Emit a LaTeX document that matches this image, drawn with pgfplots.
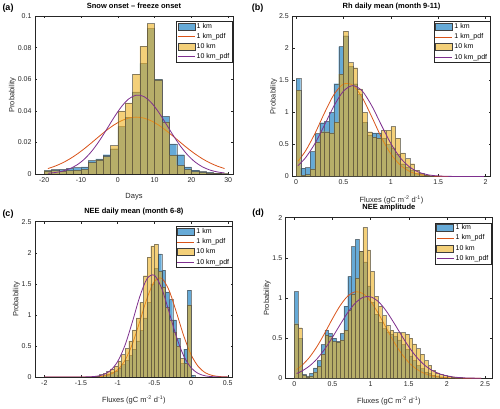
\documentclass[border=0pt]{standalone}
\usepackage{fontspec}
\setmainfont{Liberation Sans}
\usepackage{pgfplots}
\pgfplotsset{compat=1.18}
\definecolor{mblue}{rgb}{0,0.447,0.741}
\definecolor{myel}{rgb}{0.929,0.694,0.125}
\definecolor{mora}{rgb}{0.85,0.325,0.098}
\definecolor{mpur}{rgb}{0.494,0.184,0.556}
\definecolor{axc}{rgb}{0.15,0.15,0.15}
\pgfplotsset{
  every axis/.append style={
    scale only axis,
    axis line style={axc, line width=0.5pt},
    tick style={axc, line width=0.4pt},
    tick align=inside, major tick length=2.2pt,
    ticklabel style={font=\fontsize{7}{8}\selectfont, text=axc},
    label style={font=\fontsize{7.5}{9}\selectfont, text=axc},
    title style={font=\bfseries\fontsize{7.5}{9}\selectfont, at={(0.5,1)}, anchor=base, yshift=1.8pt, inner sep=0pt},
    /pgf/number format/assume math mode=true,
    legend cell align=left,
    legend style={at={(0.996,0.97)}, anchor=north east, draw=axc, line width=0.4pt,
      font=\fontsize{7}{8}\selectfont, inner xsep=1pt, inner ysep=1pt, row sep=1.6pt,
      nodes={inner xsep=1.6pt, inner ysep=1pt}},
    ylabel={Probability},
    ylabel style={yshift=-5pt},
    xlabel style={yshift=-3.5pt},
  },
  hist/.style={ybar interval, fill=#1, fill opacity=0.6, draw=black!75, draw opacity=0.6, line width=0.35pt, forget plot},
  pdf/.style={color=#1, line width=0.8pt, smooth, no markers, forget plot},
}
\newcommand{\mylegend}{%
  \addlegendimage{legend image code/.code={\draw[fill=mblue,fill opacity=0.6,draw=black!75] (0pt,-3.5pt) rectangle (17pt,3.5pt);}}
  \addlegendentry{1 km}
  \addlegendimage{legend image code/.code={\draw[mora,line width=0.8pt] (0pt,0pt) -- (17pt,0pt);}}
  \addlegendentry{1 km\_pdf}
  \addlegendimage{legend image code/.code={\draw[fill=myel,fill opacity=0.6,draw=black!75] (0pt,-3.5pt) rectangle (17pt,3.5pt);}}
  \addlegendentry{10 km}
  \addlegendimage{legend image code/.code={\draw[mpur,line width=0.8pt] (0pt,0pt) -- (17pt,0pt);}}
  \addlegendentry{10 km\_pdf}
}
\begin{document}
\begin{tikzpicture}
\useasboundingbox (0,0) rectangle (500pt,409pt);
% ---------------- (a)
\begin{axis}[at={(35pt,393pt)}, anchor=north west, width=198pt, height=158pt,
  xmin=-22.5, xmax=31.3, ymin=0, ymax=0.1,
  xtick={-20,-10,0,10,20,30}, ytick={0,0.02,0.04,0.06,0.08,0.1},
  yticklabel style={/pgf/number format/fixed},
  title={Snow onset -- freeze onset}, xlabel={Days}]
\addplot[hist=mblue] table {
x y
-20 0.0023
-18 0.0028
-16 0.0030
-14 0.0035
-12 0.0040
-10 0.0045
-8 0.0085
-6 0.0095
-4 0.0122
-2 0.0160
0 0.0300
2 0.0360
4 0.0520
6 0.0700
8 0.0920
10 0.0600
12 0.0365
14 0.0190
16 0.0122
18 0.0045
20 0.0025
22 0.0015
24 0.0010
26 0.0006
28 0.0003
30 0
};
\addplot[pdf=mora] coordinates {(-19,0.00345)(-17,0.00502)(-15,0.00706)(-13,0.00962)(-11,0.01269)(-9,0.01620)(-7,0.02002)(-5,0.02396)(-3,0.02774)(-1,0.03109)(1,0.03373)(3,0.03542)(5,0.036)(7,0.03542)(9,0.03373)(11,0.03109)(13,0.02774)(15,0.02396)(17,0.02002)(19,0.01620)(21,0.01269)(23,0.00962)(25,0.00706)(27,0.00502)(29,0.00345)};
\addplot[hist=myel] table {
x y
-20 0.0020
-18 0.0022
-16 0.0020
-14 0.0022
-12 0.0025
-10 0.0030
-8 0.0072
-6 0.0090
-4 0.0110
-2 0.0180
0 0.0400
2 0.0450
4 0.0632
6 0.0810
8 0.0952
10 0.0595
12 0.0330
14 0.0120
16 0.0055
18 0.0030
20 0.0015
22 0.0010
24 0.0006
26 0.0004
28 0.0002
30 0
};
\addplot[pdf=mpur] coordinates {(-19,0.00045)(-17,0.00094)(-15,0.00185)(-13,0.00341)(-11,0.00590)(-9,0.00960)(-7,0.01467)(-5,0.02104)(-3,0.02836)(-1,0.03589)(1,0.04265)(3,0.04760)(5,0.04990)(7,0.04912)(9,0.04541)(11,0.03943)(13,0.03216)(15,0.02462)(17,0.01771)(19,0.01196)(21,0.00759)(23,0.00452)(25,0.00253)(27,0.00133)(29,0.00066)};
\mylegend
\end{axis}
% ---------------- (b)
\begin{axis}[at={(292.3pt,392.5pt)}, anchor=north west, width=198.4pt, height=160pt,
  xmin=-0.039, xmax=2.053, ymin=0, ymax=2.5,
  xtick={0,0.5,1,1.5,2}, ytick={0,0.5,1,1.5,2,2.5},
  title={Rh daily mean (month 9-11)}, xlabel={Fluxes (gC m\textsuperscript{-2} d\textsuperscript{-1})}]
\addplot[hist=mblue] table {
x y
0.00 1.53
0.05 0.13
0.10 0.14
0.15 0.39
0.20 0.67
0.25 0.84
0.30 0.86
0.35 1.00
0.40 1.45
0.45 2.03
0.50 2.20
0.55 1.72
0.60 1.45
0.65 1.28
0.70 0.85
0.75 0.65
0.80 0.68
0.85 0.68
0.90 0.60
0.95 0.50
1.00 0.45
1.05 0.35
1.10 0.20
1.15 0.15
1.20 0.10
1.25 0.05
1.30 0.03
1.35 0.01
1.40 0.005
1.45 0
};
\addplot[pdf=mora] coordinates {(0.02,0.238)(0.1,0.398)(0.2,0.672)(0.3,0.992)(0.4,1.280)(0.5,1.444)(0.6,1.425)(0.7,1.229)(0.8,0.928)(0.9,0.612)(1.0,0.353)(1.1,0.178)(1.2,0.0785)(1.3,0.0302)(1.4,0.0102)(1.5,0.003)(1.6,0.0008)(1.7,0.0002)(1.8,0)(1.9,0)(1.98,0)};
\addplot[hist=myel] table {
x y
0.00 1.35
0.05 0.02
0.10 0.03
0.15 0.12
0.20 0.54
0.25 0.70
0.30 0.70
0.35 0.68
0.40 0.85
0.45 1.60
0.50 2.27
0.55 1.78
0.60 1.70
0.65 1.37
0.70 1.00
0.75 0.70
0.80 0.62
0.85 0.60
0.90 0.72
0.95 0.72
1.00 0.78
1.05 0.60
1.10 0.37
1.15 0.28
1.20 0.20
1.25 0.10
1.30 0.05
1.35 0.02
1.40 0.01
1.45 0
};
\addplot[pdf=mpur] coordinates {(0.02,0.169)(0.1,0.292)(0.2,0.516)(0.3,0.803)(0.4,1.102)(0.5,1.333)(0.6,1.42)(0.7,1.333)(0.8,1.102)(0.9,0.803)(1.0,0.516)(1.1,0.292)(1.2,0.146)(1.3,0.064)(1.4,0.0247)(1.5,0.0084)(1.6,0.0025)(1.7,0.0007)(1.8,0.0002)(1.9,0)(1.98,0)};
\mylegend
\end{axis}
% ---------------- (c)
\begin{axis}[at={(35pt,187.3pt)}, anchor=north west, width=197.7pt, height=155.3pt,
  xmin=-2.127, xmax=0.568, ymin=0, ymax=2.5,
  xtick={-2,-1.5,-1,-0.5,0,0.5}, ytick={0,0.5,1,1.5,2,2.5},
  title={NEE daily mean (month 6-8)}, xlabel={Fluxes (gC m\textsuperscript{-2} d\textsuperscript{-1})}]
\addplot[hist=mblue] table {
x y
-1.30 0.01
-1.25 0.02
-1.20 0.03
-1.15 0.05
-1.10 0.07
-1.05 0.10
-1.00 0.15
-0.95 0.20
-0.90 0.27
-0.85 0.35
-0.80 0.45
-0.75 0.58
-0.70 0.75
-0.65 0.95
-0.60 1.20
-0.55 1.50
-0.50 1.75
-0.45 1.98
-0.40 1.72
-0.35 1.37
-0.30 1.25
-0.25 0.92
-0.20 0.62
-0.15 0.22
-0.10 0.45
-0.05 1.40
0.00 0.03
0.05 0
};
\addplot[pdf=mora] coordinates {(-2.0,0)(-1.8,0)(-1.6,0.00002)(-1.5,0.00016)(-1.4,0.0008)(-1.3,0.0036)(-1.2,0.0134)(-1.1,0.0428)(-1.0,0.1165)(-0.9,0.269)(-0.8,0.530)(-0.7,0.889)(-0.6,1.267)(-0.5,1.538)(-0.4,1.588)(-0.3,1.396)(-0.2,1.044)(-0.1,0.665)(0.0,0.360)(0.1,0.166)(0.2,0.065)(0.3,0.0218)(0.4,0.0062)(0.5,0.0015)};
\addplot[hist=myel] table {
x y
-1.30 0.02
-1.25 0.04
-1.20 0.06
-1.15 0.09
-1.10 0.13
-1.05 0.18
-1.00 0.26
-0.95 0.36
-0.90 0.46
-0.85 0.58
-0.80 0.76
-0.75 0.95
-0.70 1.20
-0.65 1.63
-0.60 1.93
-0.55 2.11
-0.50 2.14
-0.45 1.70
-0.40 1.45
-0.35 1.12
-0.30 0.92
-0.25 0.72
-0.20 0.50
-0.15 0.30
-0.10 0.22
-0.05 1.16
0.00 0.00
0.05 0
};
\addplot[pdf=mpur] coordinates {(-2.0,0)(-1.8,0)(-1.6,0.0001)(-1.5,0.0005)(-1.4,0.0026)(-1.3,0.0104)(-1.2,0.0356)(-1.1,0.1027)(-1.0,0.250)(-0.9,0.512)(-0.8,0.885)(-0.7,1.289)(-0.6,1.582)(-0.5,1.637)(-0.4,1.428)(-0.3,1.050)(-0.2,0.651)(-0.1,0.340)(0.0,0.1495)(0.1,0.0555)(0.2,0.0173)(0.3,0.0046)(0.4,0.001)(0.5,0.0002)};
\mylegend
\end{axis}
% ---------------- (d)
\begin{axis}[at={(285.7pt,191.3pt)}, anchor=north west, width=206.3pt, height=160.6pt,
  xmin=-0.113, xmax=2.591, ymin=0, ymax=2,
  xtick={0,0.5,1,1.5,2,2.5}, ytick={0,0.5,1,1.5,2},
  title={NEE amplitude}, xlabel={Fluxes (gC m\textsuperscript{-2} d\textsuperscript{-1})}]
\addplot[hist=mblue] table {
x y
0.00 1.08
0.05 0.50
0.10 0.05
0.15 0.03
0.20 0.06
0.25 0.13
0.30 0.22
0.35 0.42
0.40 0.60
0.45 0.56
0.50 0.50
0.55 0.46
0.60 0.56
0.65 0.90
0.70 1.27
0.75 1.64
0.80 1.73
0.85 1.58
0.90 1.45
0.95 1.15
1.00 0.95
1.05 0.80
1.10 0.70
1.15 0.62
1.20 0.58
1.25 0.55
1.30 0.52
1.35 0.48
1.40 0.42
1.45 0.36
1.50 0.28
1.55 0.22
1.60 0.16
1.65 0.12
1.70 0.08
1.75 0.06
1.80 0.04
1.85 0.03
1.90 0.02
1.95 0.01
2.00 0
};
\addplot[pdf=mora] coordinates {(0.03,0.109)(0.1,0.161)(0.2,0.263)(0.3,0.400)(0.4,0.565)(0.5,0.742)(0.6,0.904)(0.7,1.024)(0.8,1.078)(0.9,1.055)(1.0,0.959)(1.1,0.810)(1.2,0.635)(1.3,0.463)(1.4,0.314)(1.5,0.198)(1.6,0.116)(1.7,0.063)(1.8,0.032)(1.9,0.0149)(2.0,0.0065)(2.1,0.0026)(2.2,0.001)(2.3,0.0003)(2.45,0.0001)};
\addplot[hist=myel] table {
x y
0.00 0.68
0.05 0.63
0.10 0.04
0.15 0.02
0.20 0.03
0.25 0.08
0.30 0.15
0.35 0.30
0.40 0.54
0.45 0.52
0.50 0.46
0.55 0.45
0.60 0.48
0.65 0.60
0.70 0.85
0.75 1.05
0.80 1.25
0.85 1.58
0.90 1.88
0.95 1.60
1.00 1.33
1.05 1.02
1.10 0.90
1.15 0.78
1.20 0.66
1.25 0.60
1.30 0.57
1.35 0.57
1.40 0.57
1.45 0.55
1.50 0.50
1.55 0.43
1.60 0.37
1.65 0.30
1.70 0.22
1.75 0.16
1.80 0.10
1.85 0.07
1.90 0.05
1.95 0.04
2.00 0.03
2.05 0.02
2.10 0.01
2.15 0.01
2.20 0
};
\addplot[pdf=mpur] coordinates {(0.03,0.060)(0.1,0.091)(0.2,0.154)(0.3,0.245)(0.4,0.366)(0.5,0.511)(0.6,0.668)(0.7,0.818)(0.8,0.938)(0.9,1.008)(1.0,1.015)(1.1,0.957)(1.2,0.845)(1.3,0.699)(1.4,0.542)(1.5,0.393)(1.6,0.267)(1.7,0.170)(1.8,0.101)(1.9,0.057)(2.0,0.030)(2.1,0.0145)(2.2,0.0067)(2.3,0.0029)(2.45,0.0007)};
\mylegend
\end{axis}
\node[font=\bfseries\fontsize{9}{10}\selectfont] at (8pt,400.5pt) {(a)};
\node[font=\bfseries\fontsize{9}{10}\selectfont] at (257.5pt,401pt) {(b)};
\node[font=\bfseries\fontsize{9}{10}\selectfont] at (8pt,195pt) {(c)};
\node[font=\bfseries\fontsize{9}{10}\selectfont] at (258pt,196pt) {(d)};
\end{tikzpicture}
\end{document}
